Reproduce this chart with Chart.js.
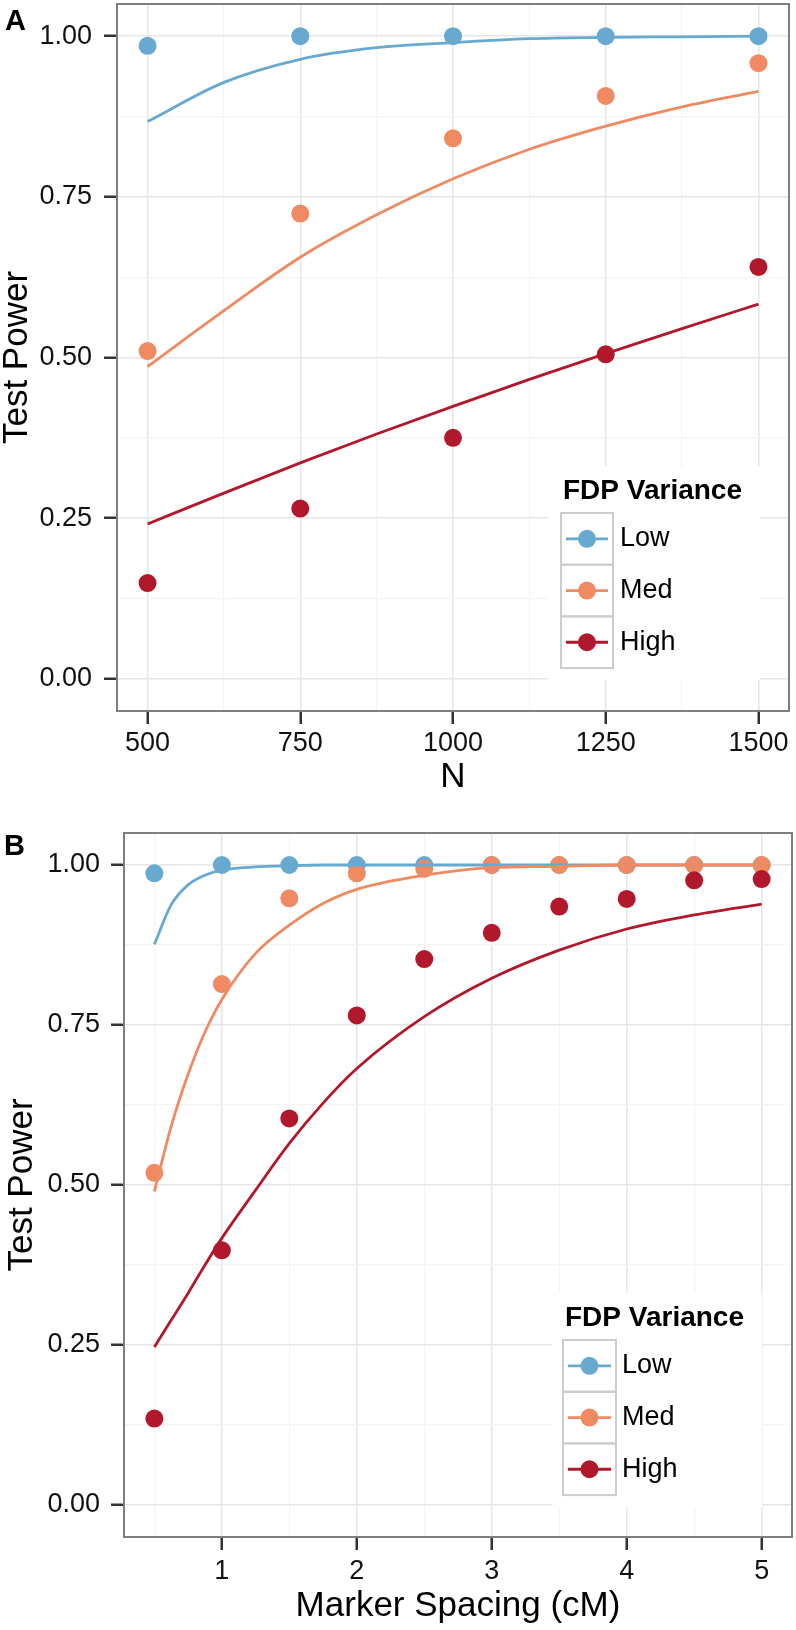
<!DOCTYPE html>
<html>
<head>
<meta charset="utf-8">
<script src="https://cdn.jsdelivr.net/npm/chart.js@4.4.0/dist/chart.umd.min.js"></script>
<style>
  body { margin: 0; background: #fff; }
  .panel { position: absolute; left: 0; }
  #panelA { top: 0; }
  #panelB { top: 800px; }
</style>
</head>
<body>
<div class="panel" id="panelA"><canvas id="chartA" width="796" height="800"></canvas></div>
<div class="panel" id="panelB"><canvas id="chartB" width="796" height="830"></canvas></div>
<script>
// Series names / colours
const seriesNames = ['Low', 'Med', 'High'];
const seriesColors = ['#67a9cf', '#ef8a62', '#b2182b'];

// Panel A: power vs N
const sampleSizes = [500, 750, 1000, 1250, 1500];
const powerLowA = [0.985, 1.0, 1.0, 1.0, 1.0];
const powerMedA = [0.510, 0.724, 0.841, 0.907, 0.958];
const powerHighA = [0.149, 0.265, 0.375, 0.505, 0.641];
// fitted curves
const fitN = [500, 625, 750, 875, 1000, 1125, 1250, 1375, 1500];
const fitLowA = [0.867, 0.928, 0.964, 0.982, 0.990, 0.996, 0.998, 0.999, 1.0];
const fitMedA = [0.486, 0.573, 0.656, 0.722, 0.778, 0.824, 0.860, 0.890, 0.914];
const fitHighA = [0.241, 0.289, 0.336, 0.381, 0.424, 0.466, 0.506, 0.545, 0.583];

// Panel B: power vs marker spacing
const spacings = [0.5, 1, 1.5, 2, 2.5, 3, 3.5, 4, 4.5, 5];
const powerLowB = [0.987, 1, 1, 1, 1, 1, 1, 1, 1, 1];
const powerMedB = [0.519, 0.814, 0.948, 0.987, 0.994, 1, 1, 1, 1, 1];
const powerHighB = [0.135, 0.398, 0.604, 0.765, 0.853, 0.894, 0.935, 0.947, 0.976, 0.978];
const fitSpacing = [0.5, 0.625, 0.75, 0.875, 1, 1.25, 1.5, 1.75, 2, 2.5, 3, 3.5, 4, 4.5, 5];
const fitLowB = [0.876, 0.938, 0.969, 0.984, 0.992, 0.997, 0.999, 1, 1, 1, 1, 1, 1, 1, 1];
const fitMedB = [0.490, 0.592, 0.673, 0.739, 0.790, 0.862, 0.906, 0.940, 0.962, 0.984, 0.996, 0.998, 1, 1, 1];
const fitHighB = [0.247, 0.289, 0.331, 0.375, 0.417, 0.492, 0.565, 0.628, 0.682, 0.763, 0.823, 0.867, 0.900, 0.922, 0.939];

// Axis ticks
const nTicks = [500, 750, 1000, 1250, 1500];
const nMinor = [625, 875, 1125, 1375];
const spacingTicks = [1, 2, 3, 4, 5];
const spacingMinor = [0.5, 1.5, 2.5, 3.5, 4.5];
const powerTicks = [0, 0.25, 0.5, 0.75, 1];
const powerTickLabels = ['0.00', '0.25', '0.50', '0.75', '1.00'];
const powerMinor = [0.125, 0.375, 0.625, 0.875];

const FONT = "'Liberation Sans', Arial, Helvetica, sans-serif";
const toXY = (xs, ys) => xs.map((x, i) => ({ x, y: ys[i] }));

// Panel border, letter and legend drawn on top
function decorPlugin(cfg) {
    return {
        id: 'decor',
        afterDraw(chart) {
            const ctx = chart.ctx;
            const a = chart.chartArea;
            ctx.save();
            ctx.strokeStyle = '#7f7f7f';
            ctx.lineWidth = 2;
            ctx.strokeRect(a.left, a.top, a.right - a.left, a.bottom - a.top);

            // panel letter
            ctx.fillStyle = '#000';
            ctx.font = 'bold 29px ' + FONT;
            ctx.textBaseline = 'alphabetic';
            ctx.textAlign = 'left';
            ctx.fillText(cfg.letter, cfg.letterX, cfg.letterY);

            // legend
            const lg = cfg.legend;
            ctx.fillStyle = '#fff';
            ctx.fillRect(lg.x, lg.y, lg.w, lg.h);
            ctx.fillStyle = '#000';
            ctx.font = 'bold 28px ' + FONT;
            ctx.textBaseline = 'middle';
            ctx.fillText('FDP Variance', lg.titleX, lg.titleY);
            ctx.font = '27px ' + FONT;
            seriesNames.forEach((name, i) => {
                const ky = lg.keyY + i * lg.keyH;
                const cy = ky + lg.keyH / 2;
                const cx = lg.keyX + lg.keyW / 2;
                ctx.strokeStyle = '#cccccc';
                ctx.lineWidth = 2;
                ctx.strokeRect(lg.keyX, ky, lg.keyW, lg.keyH);
                ctx.strokeStyle = seriesColors[i];
                ctx.lineWidth = 2.8;
                ctx.beginPath();
                ctx.moveTo(lg.keyX + 5, cy);
                ctx.lineTo(lg.keyX + lg.keyW - 5, cy);
                ctx.stroke();
                ctx.fillStyle = seriesColors[i];
                ctx.beginPath();
                ctx.arc(cx, cy, 9, 0, Math.PI * 2);
                ctx.fill();
                ctx.fillStyle = '#000';
                ctx.fillText(name, lg.labelX, cy);
            });
            ctx.restore();
        }
    };
}

function axis(opts) {
    const all = opts.major.concat(opts.minor).sort((a, b) => a - b);
    const isMajor = v => opts.major.some(m => Math.abs(m - v) < 1e-9);
    return {
        type: 'linear',
        min: opts.min,
        max: opts.max,
        afterBuildTicks: s => { s.ticks = all.map(v => ({ value: v })); },
        afterFit: s => {
            if (opts.width) s.width = opts.width;
            if (opts.height) s.height = opts.height;
            // keep the plot area where the layout padding puts it
            s.paddingTop = 0;
            s.paddingBottom = 0;
            s.paddingLeft = 0;
            s.paddingRight = 0;
        },
        border: { display: false },
        grid: {
            color: c => isMajor(c.tick.value) ? '#e6e6e6' : '#f4f4f4',
            lineWidth: c => isMajor(c.tick.value) ? 1.5 : 1.2,
            tickColor: c => isMajor(c.tick.value) ? '#333333' : 'rgba(0,0,0,0)',
            tickLength: 13,
            tickWidth: 2.5
        },
        ticks: {
            autoSkip: false,
            maxRotation: 0,
            padding: opts.tickPad,
            color: '#111',
            font: { family: FONT, size: 27, lineHeight: 1 },
            callback: v => {
                const i = opts.major.findIndex(m => Math.abs(m - v) < 1e-9);
                return i < 0 ? '' : opts.labels[i];
            }
        },
        title: {
            display: true,
            text: opts.title,
            color: '#000',
            font: { family: FONT, size: 35, lineHeight: 1 },
            padding: opts.titlePad
        }
    };
}

function makeDatasets(xs, pts, fitX, fits) {
    const sets = [];
    fits.forEach((f, i) => {
        sets.push({
            label: seriesNames[i] + ' fit',
            data: toXY(fitX, f),
            showLine: true,
            borderColor: seriesColors[i],
            borderWidth: 2.8,
            pointRadius: 0,
            cubicInterpolationMode: 'monotone',
            fill: false,
            order: 3 - i
        });
    });
    pts.forEach((p, i) => {
        sets.push({
            label: seriesNames[i],
            data: toXY(xs, p),
            showLine: false,
            backgroundColor: seriesColors[i],
            pointRadius: 9,
            pointBorderWidth: 0,
            order: 6 - i
        });
    });
    return sets;
}

function makeChart(id, cfg) {
    return new Chart(document.getElementById(id), {
        type: 'scatter',
        data: { datasets: makeDatasets(cfg.xs, cfg.pts, cfg.fitX, cfg.fits) },
        options: {
            responsive: false,
            animation: false,
            layout: { padding: cfg.padding, autoPadding: false },
            plugins: { legend: { display: false }, tooltip: { enabled: false } },
            scales: { x: cfg.x, y: cfg.y }
        },
        plugins: [decorPlugin(cfg.decor)]
    });
}

makeChart('chartA', {
    xs: sampleSizes,
    pts: [powerLowA, powerMedA, powerHighA],
    fitX: fitN,
    fits: [fitLowA, fitMedA, fitHighA],
    padding: { top: 4, right: 7, left: 0, bottom: 0 },
    x: axis({ min: 450, max: 1550, major: nTicks, minor: nMinor, labels: nTicks.map(String),
              height: 89, tickPad: 6, title: 'N', titlePad: { top: 0, bottom: 5.5 } }),
    y: axis({ min: -0.05, max: 1.05, major: powerTicks, minor: powerMinor, labels: powerTickLabels,
              width: 117, tickPad: 12, title: 'Test Power', titlePad: { top: 0, bottom: 0 } }),
    decor: {
        letter: 'A', letterX: 5, letterY: 30,
        legend: { x: 548, y: 467, w: 212, h: 213, titleX: 563, titleY: 491,
                  keyX: 561, keyY: 513, keyW: 52, keyH: 51.7, labelX: 620 }
    }
});

makeChart('chartB', {
    xs: spacings,
    pts: [powerLowB, powerMedB, powerHighB],
    fitX: fitSpacing,
    fits: [fitLowB, fitMedB, fitHighB],
    padding: { top: 33, right: 4, left: 0, bottom: 0 },
    x: axis({ min: 0.275, max: 5.225, major: spacingTicks, minor: spacingMinor, labels: spacingTicks.map(String),
              height: 93, tickPad: 8, title: 'Marker Spacing (cM)', titlePad: { top: 0, bottom: 6.5 } }),
    y: axis({ min: -0.05, max: 1.05, major: powerTicks, minor: powerMinor, labels: powerTickLabels,
              width: 124, tickPad: 11, title: 'Test Power', titlePad: { top: 5, bottom: 0 } }),
    decor: {
        letter: 'B', letterX: 4, letterY: 55,
        legend: { x: 552, y: 493, w: 210, h: 214, titleX: 565, titleY: 518,
                  keyX: 563, keyY: 540, keyW: 53, keyH: 51.7, labelX: 622 }
    }
});
</script>
</body>
</html>
